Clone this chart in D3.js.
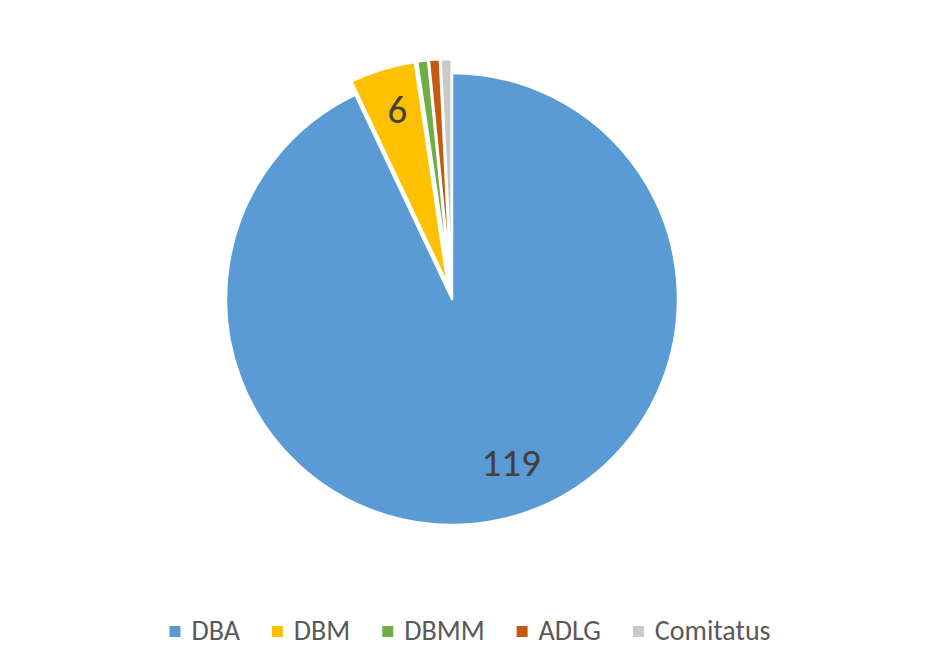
<!DOCTYPE html>
<html><head><meta charset="utf-8">
<script src="https://cdn.jsdelivr.net/npm/d3@7"></script>
<style>body{margin:0;background:#fff}svg{display:block}</style>
</head><body>
<script>
const categories = ["DBA", "DBM", "DBMM", "ADLG", "Comitatus"];
const values = [119, 6, 1, 1, 1];
const colors = ["#5B9BD5", "#FFC000", "#70AD47", "#C55A11", "#C9C9C9"];
const exploded = [false, true, true, true, true];
const showLabel = [true, true, false, false, false];

const W = 929, H = 667;
const cx = 452, cy = 299, R = 226, explode = 14;
const font = "Carlito, Calibri, Lato, 'Open Sans', sans-serif";
const labelNudge = [[21, -7], [0, -10], [0, 0], [0, 0], [0, 0]];

const svg = d3.select("body").append("svg").attr("width", W).attr("height", H);
const data = categories.map((c, i) => ({ c, v: values[i], i }));
const pie = d3.pie().value(d => d.v).sort(null);
const arcs = pie(data);
const arc = d3.arc().innerRadius(0).outerRadius(R);
const labelArc = d3.arc().innerRadius(R * 0.77).outerRadius(R * 0.77);
const color = d3.scaleOrdinal().domain(categories).range(colors);

const g = svg.append("g").attr("transform", `translate(${cx},${cy})`);
function off(a, d) {
  const m = (a.startAngle + a.endAngle) / 2;
  return [Math.sin(m) * d, -Math.cos(m) * d];
}
g.selectAll("path").data(arcs).join("path")
  .attr("d", arc)
  .attr("fill", d => color(d.data.c))
  .attr("stroke", "#fff").attr("stroke-width", 2.5).attr("stroke-linejoin", "round")
  .attr("transform", d => { const o = exploded[d.data.i] ? off(d, explode) : [0, 0]; return `translate(${o[0]},${o[1]})`; });

g.selectAll("text.lbl").data(arcs.filter(d => showLabel[d.data.i])).join("text")
  .attr("class", "lbl")
  .attr("transform", d => {
    const o = exploded[d.data.i] ? off(d, explode) : [0, 0];
    const c = labelArc.centroid(d);
    const n = labelNudge[d.data.i];
    return `translate(${c[0] + o[0] + n[0]},${c[1] + o[1] + n[1]})`;
  })
  .attr("text-anchor", "middle").attr("dy", "0.36em")
  .attr("font-family", font).attr("font-size", 39).attr("fill", "#404040")
  .text(d => d.data.v);

// legend
const lg = svg.append("g");
const items = lg.selectAll("g").data(data).join("g");
items.append("rect").attr("width", 11).attr("height", 11).attr("y", -14)
  .attr("fill", d => color(d.c));
items.append("text").attr("x", 22).attr("y", 0)
  .attr("font-family", font).attr("font-size", 28).attr("fill", "#595959")
  .text(d => d.c);
const gap = 32;
let x = 0;
items.each(function () {
  const el = d3.select(this);
  el.attr("transform", `translate(${x},0)`);
  x += 22 + el.select("text").node().getComputedTextLength() + gap;
});
const total = x - gap;
lg.attr("transform", `translate(${470 - total / 2},640)`);
</script>
</body></html>
